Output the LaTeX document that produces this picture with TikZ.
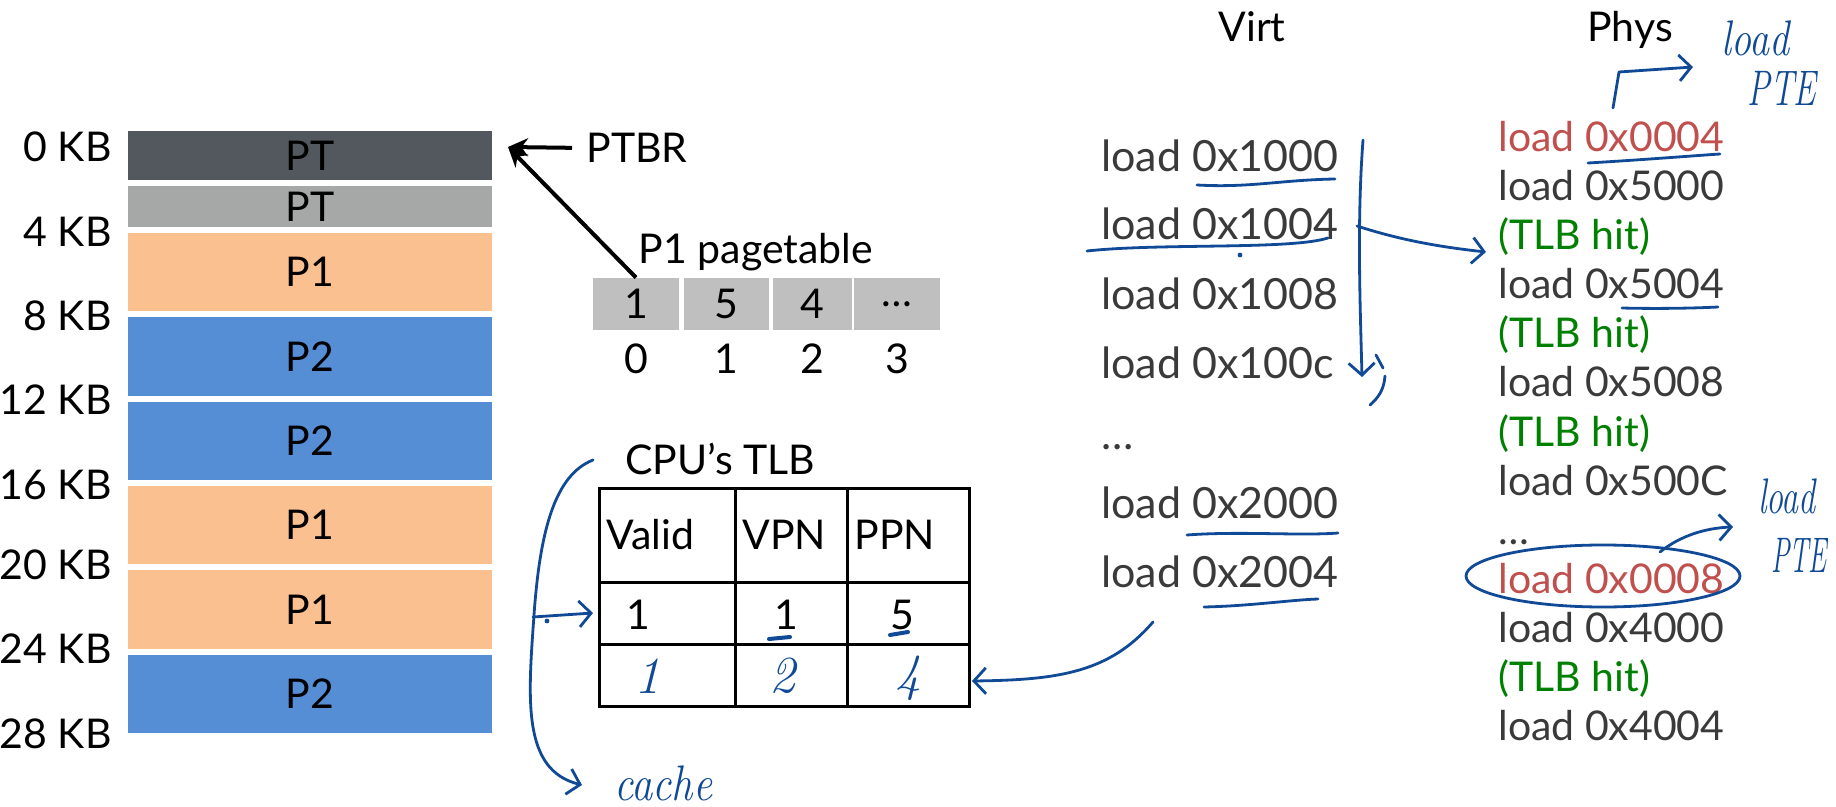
\documentclass[tikz,border=0pt]{standalone}
\usepackage{fontspec}
\usepackage{graphicx}
\setmainfont{Lato}
\usetikzlibrary{arrows.meta}

\definecolor{ptdark}{RGB}{83,87,94}
\definecolor{ptgray}{RGB}{165,168,167}
\definecolor{pone}{RGB}{250,192,144}
\definecolor{ptwo}{RGB}{85,142,213}
\definecolor{cellgray}{RGB}{191,191,191}
\definecolor{loadgray}{RGB}{58,58,58}
\definecolor{missred}{RGB}{192,80,77}
\definecolor{hitgreen}{RGB}{0,128,0}
\definecolor{ink}{RGB}{16,74,150}

\newcommand\slidefont{\fontsize{20.5}{24}\selectfont}
\newcommand\virtfont{\fontsize{21.5}{25}\selectfont}
\newcommand\handfont{\fontfamily{lmr}\fontshape{it}\selectfont}

\begin{document}
\begin{tikzpicture}[x=0.5pt,y=-0.5pt,
    every node/.style={inner sep=1pt},
    slide/.style={font=\slidefont},
    memblk/.style={minimum width=182pt,font=\slidefont},
    kblabel/.style={anchor=east,font=\slidefont},
    ptcell/.style={fill=cellgray,minimum height=26pt,font=\slidefont},
    tlbline/.style={line width=1.5pt},
    ptrarrow/.style={line width=2pt,-{Stealth[length=10pt,width=9pt]}},
    virtline/.style={anchor=base west,text=loadgray,font=\virtfont},
    physline/.style={anchor=base west,text=loadgray,font=\slidefont},
    hand/.style={draw=ink,line width=1.4pt,line cap=round,line join=round},
    handarrow/.style={hand,-{Straight Barb[length=6pt,width=13pt]}},
    handnote/.style={text=ink,font=\handfont\fontsize{25}{25}\selectfont},
    handnum/.style={text=ink,font=\handfont\fontsize{26}{26}\selectfont}]
    \useasboundingbox (0,0) rectangle (1836,807);

    \node[memblk,fill=ptdark,minimum height=24.5pt] (pt0) at (310,155.5) {PT};
    \node[memblk,fill=ptgray,minimum height=20.5pt] (pt1) at (310,206.5) {PT};
    \node[memblk,fill=pone,minimum height=39pt] (mem2) at (310,272) {P1};
    \node[memblk,fill=ptwo,minimum height=39.5pt] (mem3) at (310,356.5) {P2};
    \node[memblk,fill=ptwo,minimum height=39pt] (mem4) at (310,441) {P2};
    \node[memblk,fill=pone,minimum height=39pt] (mem5) at (310,525) {P1};
    \node[memblk,fill=pone,minimum height=39.5pt] (mem6) at (310,609.5) {P1};
    \node[memblk,fill=ptwo,minimum height=39pt] (mem7) at (310,694) {P2};
    \foreach \y/\kb [count=\i] in {147/0,232/4,316/8,400/12,485/16,565/20,649/24,734/28}
        \node[kblabel] (kb\i) at (114,\y) {\kb\ KB};

    \coordinate (ptrtip) at (508,147);
    \node[slide,anchor=west] (ptbr) at (584,148) {PTBR};
    \draw[ptrarrow,shorten <=6pt] (ptbr.west) -- (ptrtip);

    \node[slide,anchor=base] (pttitle) at (756,264) {P1 pagetable};
    \node[ptcell,minimum width=43pt] (pte0) at (636,304) {1};
    \node[ptcell,minimum width=42.5pt] (pte1) at (726.5,304) {5};
    \node[ptcell,minimum width=39.5pt] (pte2) at (812.5,304) {4};
    \node[ptcell,minimum width=43pt] (pte3) at (897,304) {…};
    \foreach \x/\n in {636/0,726.5/1,812.5/2,897/3}
        \node[slide] (idx\n) at (\x,359) {\n};
    \draw[ptrarrow] (pte0.north) -- (ptrtip);

    \node[slide,anchor=base] (tlbtitle) at (720,474) {CPU’s TLB};
    \draw[tlbline] (599,488) rectangle (969,706);
    \draw[tlbline] (735,488) -- (735,706) (847,488) -- (847,706)
        (599,582) -- (969,582) (599,644) -- (969,644);
    \node[slide,anchor=west] (hvalid) at (604,535) {Valid};
    \node[slide,anchor=west] (hvpn) at (740,535) {VPN};
    \node[slide,anchor=west] (hppn) at (852,535) {PPN};
    \node[slide] (r1valid) at (638,615) {1};
    \node[slide] (r1vpn) at (786,615) {1};
    \node[slide] (r1ppn) at (902,615) {5};
    \node[handnum] (r2valid) at (647,676) {1};
    \node[handnum] (r2vpn) at (782,676) {2};
    \node[handnum] (r2ppn) at (908,678) {4};
    \draw[hand,line width=2pt] (769,639) -- (790,637) (890,635) -- (908,632);

    \coordinate (bracetop) at (593,460);
    \coordinate (cachetip) at (582,785);
    \coordinate (row1tip) at (593,613);
    \draw[handarrow] (bracetop) .. controls (555,475) and (540,530) .. (534,615)
        .. controls (528,700) and (522,770) .. (cachetip);
    \draw[handarrow] (533,617) -- (row1tip);
    \fill[ink] (547,621) circle (1.2pt);
    \node[handnote,anchor=west] (cache) at (612,783) {\scalebox{0.85}[1]{cache}};

    \node[slide,anchor=base] (virt) at (1252,42) {Virt};
    \node[virtline] (v1) at (1099,172) {load 0x1000};
    \node[virtline] (v2) at (1099,240) {load 0x1004};
    \node[virtline] (v3) at (1099,310) {load 0x1008};
    \node[virtline] (v4) at (1099,379) {load 0x100c};
    \node[virtline] (v5) at (1099,450) {…};
    \node[virtline] (v6) at (1099,518) {load 0x2000};
    \node[virtline] (v7) at (1099,587) {load 0x2004};

    \draw[hand] (1197,185) .. controls (1250,188) and (1280,180) .. (1335,179);
    \draw[hand] (1087,251) .. controls (1160,243) and (1290,250) .. (1328,238);
    \fill[ink] (1240,255) circle (1.2pt);
    \draw[handarrow] (1363,140) .. controls (1357,220) and (1360,300) .. (1362,377);
    \draw[hand] (1376,355) -- (1383,368);
    \draw[hand] (1385,376) .. controls (1384,390) and (1378,398) .. (1370,405);
    \draw[handarrow] (1357,226) .. controls (1400,240) and (1440,247) .. (1486,252);
    \draw[hand] (1187,535) .. controls (1240,531) and (1300,536) .. (1338,533);
    \draw[hand] (1204,607) .. controls (1250,606) and (1290,600) .. (1318,599);
    \draw[handarrow] (1153,622) .. controls (1110,672) and (1060,680) .. (972,681);

    \node[slide,anchor=base] (phys) at (1630,42) {Phys};
    \node[physline,text=missred] (p0) at (1496,152) {load 0x0004};
    \node[physline] (p1) at (1496,201) {load 0x5000};
    \node[physline,text=hitgreen] (p2) at (1496,250) {(TLB hit)};
    \node[physline] (p3) at (1496,299) {load 0x5004};
    \node[physline,text=hitgreen] (p4) at (1496,348) {(TLB hit)};
    \node[physline] (p5) at (1496,397) {load 0x5008};
    \node[physline,text=hitgreen] (p6) at (1496,446) {(TLB hit)};
    \node[physline] (p7) at (1496,495) {load 0x500C};
    \node[physline] (p8) at (1496,544) {…};
    \node[physline,text=missred] (p9) at (1496,593) {load 0x0008};
    \node[physline] (p10) at (1496,642) {load 0x4000};
    \node[physline,text=hitgreen] (p11) at (1496,691) {(TLB hit)};
    \node[physline] (p12) at (1496,740) {load 0x4004};

    \draw[hand] (1588,163) .. controls (1640,160) and (1690,156) .. (1720,154);
    \draw[hand] (1622,308) .. controls (1660,309) and (1700,308) .. (1718,307);
    \draw[handarrow] (1613,108) -- (1619,72) -- (1693,67);
    \node[handnote] (note1a) at (1755,38) {\scalebox{0.8}[1]{load}};
    \node[handnote] (note1b) at (1782,88) {\scalebox{0.68}[1]{PTE}};
    \draw[hand] (1603,576) ellipse [x radius=137, y radius=31];
    \draw[handarrow] (1660,552) .. controls (1680,536) and (1705,528) .. (1733,527);
    \node[handnote] (note2a) at (1787,496) {\scalebox{0.68}[1]{load}};
    \node[handnote] (note2b) at (1799,555) {\scalebox{0.55}[1]{PTE}};
\end{tikzpicture}
\end{document}
